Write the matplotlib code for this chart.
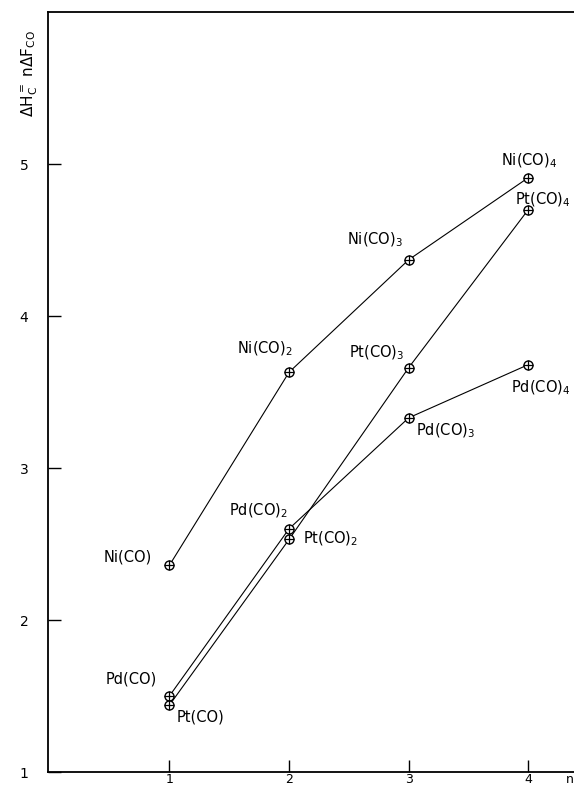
import matplotlib
matplotlib.use('Agg')
import matplotlib.pyplot as plt

plt.rcParams['mathtext.default'] = 'regular'
plt.rcParams['font.family'] = 'DejaVu Sans'

n = [1, 2, 3, 4]
ni = [2.36, 3.63, 4.37, 4.91]
pd = [1.50, 2.60, 3.33, 3.68]
pt = [1.44, 2.53, 3.66, 4.70]

ni_labels = ['Ni(CO)', 'Ni(CO)$_2$', 'Ni(CO)$_3$', 'Ni(CO)$_4$']
pd_labels = ['Pd(CO)', 'Pd(CO)$_2$', 'Pd(CO)$_3$', 'Pd(CO)$_4$']
pt_labels = ['Pt(CO)', 'Pt(CO)$_2$', 'Pt(CO)$_3$', 'Pt(CO)$_4$']

# label offsets in pixels (dx right, dy up) and alignment
ni_off = [(-18, 4, 'right'), (4, 19, 'right'), (-6, 15, 'right'), (-27, 12, 'left')]
pd_off = [(-13, 12, 'right'), (-1, 13, 'right'), (7, -17, 'left'), (-17, -28, 'left')]
pt_off = [(7, -16, 'left'), (14, -4, 'left'), (-4, 10, 'right'), (-13, 5, 'left')]

W, H = 574, 791
fig = plt.figure(figsize=(W / 100, H / 100), dpi=100)
ax = fig.add_axes([48 / W, 19 / H, 1 - 48 / W + 0.01, (772 - 12) / H])

for vals in (ni, pd, pt):
    ax.plot(n, vals, color='black', lw=0.8, zorder=2)
    ax.plot(n, vals, 'o', ms=6.5, mfc='white', mec='black', mew=1.0, zorder=3)
    ax.plot(n, vals, '+', ms=6.5, color='black', mew=0.9, zorder=4)

px = 0.72
for vals, labs, offs in ((ni, ni_labels, ni_off), (pd, pd_labels, pd_off),
                         (pt, pt_labels, pt_off)):
    for x, y, lab, (dx, dy, ha) in zip(n, vals, labs, offs):
        ax.annotate(lab, xy=(x, y), xytext=(dx * px, dy * px),
                    textcoords='offset points', ha=ha, va='baseline',
                    fontsize=10.5)

ax.set_xlim(-0.015, 4.43)
ax.set_ylim(1, 6)
ax.set_xticks([1, 2, 3, 4])
ax.set_yticks([1, 2, 3, 4, 5])
ax.tick_params(direction='in', length=9, width=1.0, labelsize=10)
ax.tick_params(axis='y', pad=14)
ax.tick_params(axis='x', pad=1, labelsize=9)
for s in ('left', 'bottom', 'top'):
    ax.spines[s].set_linewidth(1.3)
ax.spines['right'].set_visible(False)

ax.annotate('n', xy=(4.35, 0), xycoords=('data', 'axes fraction'),
            xytext=(0, -1), textcoords='offset points',
            ha='center', va='top', fontsize=9)

fig.text(30 / W, 1 - 74 / H, r'$\Delta H_C^{=}\ n\Delta F_{CO}$',
         rotation=90, ha='center', va='center', fontsize=11)

fig.savefig('out.png', dpi=100)
